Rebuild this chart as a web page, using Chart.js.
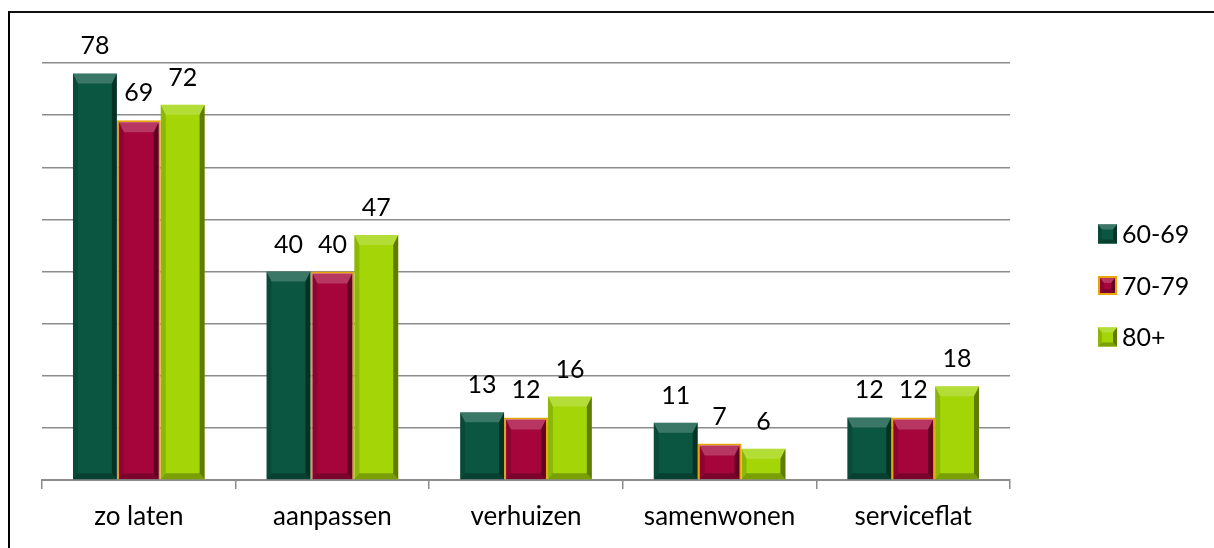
<!DOCTYPE html>
<html>
<head>
<meta charset="utf-8">
<script src="https://cdn.jsdelivr.net/npm/chart.js@4/dist/chart.umd.min.js"></script>
<style>
  html, body { margin: 0; padding: 0; background: #fff; overflow: hidden; }
  #wrap { position: relative; width: 1214px; height: 548px; }
  #frame { position: absolute; left: 8px; top: 11px; width: 1214px; height: 548px;
           border-top: 2px solid #111; border-left: 2px solid #000; }
  canvas { position: absolute; left: 0; top: 0; }
</style>
</head>
<body>
<div id="wrap">
  <div id="frame"></div>
  <canvas id="chart" width="1214" height="548"></canvas>
</div>
<script>
// gegevens
const categories = ['zo laten', 'aanpassen', 'verhuizen', 'samenwonen', 'serviceflat'];
const seriesNames = ['60-69', '70-79', '80+'];
const age6069 = [78, 40, 13, 11, 12];
const age7079 = [69, 40, 12, 7, 12];
const age80 = [72, 47, 16, 6, 18];

const FONT = 'Lato, "Liberation Sans", sans-serif';
const faceColors = ['#0b5640', '#a5053b', '#a3d507'];
const edgeColors = ['#06301f', '#e9a40a', '#7a9a00'];

// afgeschuinde rand over elke balk
function bevel(ctx, l, t, r, b, s, th, bh) {
  const quad = (pts, fill) => {
    ctx.beginPath();
    ctx.moveTo(pts[0][0], pts[0][1]);
    for (let k = 1; k < pts.length; k++) ctx.lineTo(pts[k][0], pts[k][1]);
    ctx.closePath();
    ctx.fillStyle = fill;
    ctx.fill();
  };
  const h = b - t;
  th = Math.min(th, h / 3);
  bh = Math.min(bh, h / 3);
  quad([[l, t], [r, t], [r - s, t + th], [l + s, t + th]], 'rgba(255,255,255,0.2)');
  quad([[r, t], [r, b], [r - s, b - bh], [r - s, t + th]], 'rgba(0,0,0,0.42)');
  quad([[l, b], [r, b], [r - s, b - bh], [l + s, b - bh]], 'rgba(0,0,0,0.25)');
  quad([[l, t], [l + s, t + th], [l + s, b - bh], [l, b]], 'rgba(0,0,0,0.14)');
}

const barDecor = {
  id: 'barDecor',
  afterDatasetsDraw(chart) {
    const ctx = chart.ctx;
    ctx.save();
    chart.data.datasets.forEach((ds, i) => {
      const meta = chart.getDatasetMeta(i);
      meta.data.forEach((bar, j) => {
        const p = bar.getProps(['x', 'y', 'base', 'width'], true);
        const bw = ds.borderWidth || 0;
        bevel(ctx, p.x - p.width / 2 + bw, p.y + bw, p.x + p.width / 2 - bw, p.base, 5, 10, 6);
        ctx.fillStyle = '#000';
        ctx.font = '25px ' + FONT;
        ctx.textAlign = 'center';
        ctx.textBaseline = 'alphabetic';
        ctx.fillText(ds.data[j], p.x, p.y - 19);
      });
    });
    ctx.restore();
  },
  afterDraw(chart) {
    // legenda rechts
    const ctx = chart.ctx;
    ctx.save();
    chart.data.datasets.forEach((ds, i) => {
      const cy = 234 + i * 51.5;
      const x = 1098, y = cy - 9.5;
      ctx.fillStyle = ds.borderWidth ? ds.borderColor : faceColors[i];
      ctx.fillRect(x, y, 19, 19);
      const bw = ds.borderWidth ? 2 : 0;
      ctx.fillStyle = faceColors[i];
      ctx.fillRect(x + bw, y + bw, 19 - 2 * bw, 19 - 2 * bw);
      bevel(ctx, x + bw, y + bw, x + 19 - bw, y + 19 - bw, 4, 5, 4);
      ctx.fillStyle = '#000';
      ctx.font = '25px ' + FONT;
      ctx.textAlign = 'left';
      ctx.textBaseline = 'middle';
      ctx.fillText(ds.label, 1122, cy + 1);
    });
    ctx.restore();
  }
};

const ctx = document.getElementById('chart').getContext('2d');
new Chart(ctx, {
  type: 'bar',
  data: {
    labels: categories,
    datasets: [
      { label: seriesNames[0], data: age6069, backgroundColor: faceColors[0], borderWidth: 0 },
      { label: seriesNames[1], data: age7079, backgroundColor: faceColors[1], borderColor: edgeColors[1], borderWidth: 2 },
      { label: seriesNames[2], data: age80, backgroundColor: faceColors[2], borderWidth: 0 }
    ]
  },
  options: {
    responsive: false,
    animation: false,
    devicePixelRatio: 1,
    layout: { padding: { left: 42, right: 204, top: 63, bottom: 0 } },
    plugins: { legend: { display: false }, tooltip: { enabled: false } },
    datasets: { bar: { categoryPercentage: 0.68, barPercentage: 1 } },
    scales: {
      x: {
        grid: { drawOnChartArea: false, drawTicks: true, tickLength: 9, color: '#8c8c8c', lineWidth: 1.5 },
        border: { display: true, color: '#8c8c8c', width: 2 },
        ticks: { color: '#000', font: { family: FONT, size: 26 }, padding: 12 },
        afterFit: s => { s.height = 68; }
      },
      y: {
        min: 0, max: 80,
        ticks: { display: false, stepSize: 10 },
        grid: { drawTicks: false, color: '#8c8c8c', lineWidth: 1.5 },
        border: { display: false },
        afterFit: s => { s.width = 0; }
      }
    }
  },
  plugins: [barDecor]
});
</script>
</body>
</html>
